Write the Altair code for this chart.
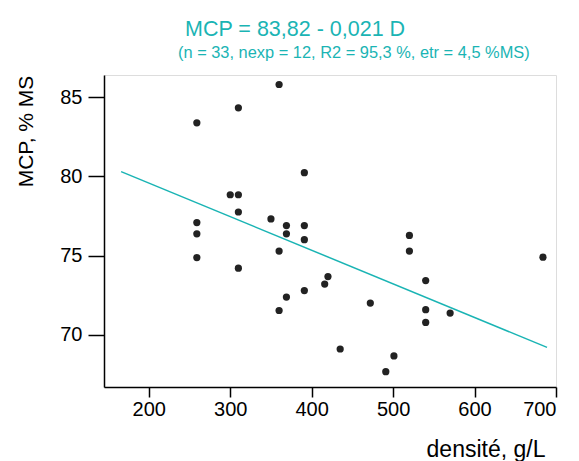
import altair as alt
import pandas as pd

# Data
densite = [360, 310, 259, 391, 300, 310, 310, 350, 259, 369, 391, 259, 369, 391,
           360, 259, 310, 420, 416, 391, 369, 360, 435, 520, 520, 684, 540, 472,
           540, 570, 540, 501, 491]
mcp = [85.8, 84.33, 83.38, 80.23, 78.84, 78.84, 77.75, 77.31, 77.08, 76.89, 76.89,
       76.37, 76.37, 76.0, 75.28, 74.87, 74.2, 73.67, 73.2, 72.79, 72.38, 71.53,
       69.1, 76.27, 75.28, 74.9, 73.42, 72.0, 71.58, 71.37, 70.78, 68.66, 67.67]

fit_x = [166, 689]
fit_y = [80.3, 69.2]

title_text = ["MCP = 83,82 - 0,021 D"]
subtitle_text = ["(n = 33, nexp = 12, R2 = 95,3 %, etr = 4,5 %MS)"]

x_ticks = [200, 300, 400, 500, 600, 700]
y_ticks = [70, 75, 80, 85]

TEAL = "#1ab4b4"
FONT = "Liberation Sans"

pts = pd.DataFrame({"D": densite, "MCP": mcp})
fit = pd.DataFrame({"D": fit_x, "MCP": fit_y})

xscale = alt.Scale(domain=[145, 700], nice=False, zero=False)
yscale = alt.Scale(domain=[66.7, 86.4], nice=False, zero=False)

xaxis = alt.Axis(
    values=x_ticks, grid=False, domainColor="black", domainWidth=1.5,
    tickColor="black", tickWidth=1.5, tickSize=10, labelFontSize=20, labelFont=FONT,
    labelColor="black", labelPadding=2, title="densité, g/L", titleFont=FONT,
    titleFontSize=23, titleFontWeight="normal", titleColor="black",
    titleAnchor="end", titleAlign="right", titleX=441, titleY=69,
    titleBaseline="alphabetic",
)
yaxis = alt.Axis(
    values=y_ticks, grid=False, domainColor="black", domainWidth=1.5,
    tickColor="black", tickWidth=1.5, tickSize=16, labelFontSize=20, labelFont=FONT,
    labelColor="black", labelPadding=6, title="MCP, % MS", titleFont=FONT,
    titleFontSize=21, titleFontWeight="normal", titleColor="black",
    titleAngle=270, titleAlign="center", titleX=-72, titleY=56,
    titleBaseline="alphabetic",
)

points = alt.Chart(pts).mark_point(
    filled=True, shape="circle", size=52, color="#222222", opacity=1
).encode(
    x=alt.X("D:Q", scale=xscale, axis=xaxis),
    y=alt.Y("MCP:Q", scale=yscale, axis=yaxis),
)

line = alt.Chart(fit).mark_line(color=TEAL, strokeWidth=1.5).encode(
    x=alt.X("D:Q", scale=xscale),
    y=alt.Y("MCP:Q", scale=yscale),
)

title = alt.Chart(pd.DataFrame({"t": title_text})).mark_text(
    align="left", baseline="alphabetic", fontSize=21.5, font=FONT, color=TEAL
).encode(text="t:N", x=alt.value(81), y=alt.value(-39))

subtitle = alt.Chart(pd.DataFrame({"t": subtitle_text})).mark_text(
    align="left", baseline="alphabetic", fontSize=16.4, font=FONT, color=TEAL
).encode(text="t:N", x=alt.value(74), y=alt.value(-17))

chart = alt.layer(line, points, title, subtitle).properties(
    width=452, height=312,
    autosize=alt.AutoSizeParams(type="none"),
    padding={"left": 96, "top": 67, "right": 15, "bottom": 78},
).configure_view(stroke=None).configure(background="white")

chart.save("out.html", embed_options={"renderer": "svg", "actions": False})
